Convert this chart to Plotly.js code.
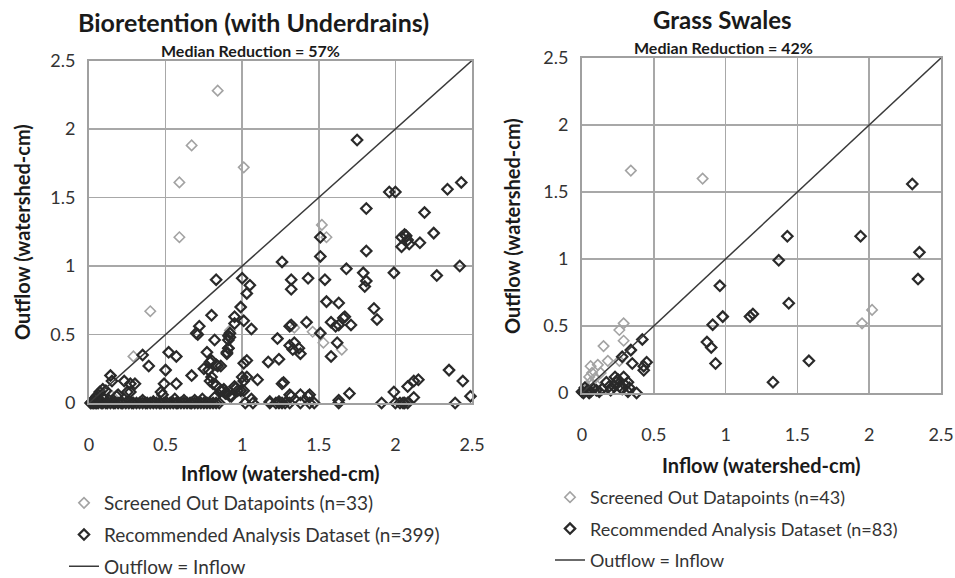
<!DOCTYPE html>
<html>
<head>
<meta charset="utf-8">
<script src="https://cdn.plot.ly/plotly-3.0.1.min.js"></script>
<style>html,body{margin:0;padding:0;background:#fff;overflow:hidden;}#chart{width:955px;height:600px;}</style>
</head>
<body>
<div id="chart"></div>
<script>
// ---- Bioretention (with Underdrains) ----
const bioScreenedX = [0.84,0.67,0.59,1.01,0.59,0.40,0.29,1.52,1.55,1.34,1.46,1.53,1.65,0.92,0.03,0.08,0.15];
const bioScreenedY = [2.28,1.88,1.61,1.72,1.21,0.67,0.34,1.30,1.21,0.55,0.52,0.44,0.39,0.53,0.02,0.01,0.05];

const bioRecX = [
  1.75,1.81,1.96,2.00,2.34,2.43,2.19,2.25,2.06,2.04,2.07,2.08,2.09,2.04,2.16,1.81,1.68,1.79,1.81,1.80,
  1.99,2.27,2.42,1.63,1.86,1.88,1.67,1.63,1.61,1.71,1.62,2.35,2.44,2.15,2.12,2.08,2.12,1.99,1.70,1.63,
  1.91,2.00,2.05,2.08,2.39,2.49,
  1.51,1.51,1.26,1.00,1.05,1.03,1.32,1.32,1.43,1.54,0.99,0.95,0.95,1.01,1.06,1.55,1.58,1.66,1.42,1.31,
  1.32,1.51,1.23,1.31,1.34,1.33,1.37,1.38,1.58,0.92,0.92,0.91,0.90,0.86,1.01,1.03,1.17,1.24,1.00,1.03,
  1.01,1.10,1.26,1.27,
  1.02,1.07,1.18,1.22,1.24,1.26,1.28,1.31,1.38,1.44,1.47,1.63,2.03,2.06,
  0.86,0.89,0.93,0.96,0.99,1.06,1.31,1.32,1.38,1.43,1.44,1.18,1.24,
  0.83,0.80,0.82,0.79,0.83,0.95,1.01,0.83,0.88,0.90,0.79,0.72,0.70,0.71,0.35,0.52,0.57,0.39,0.50,0.77,
  0.80,0.75,0.78,0.67,0.80,0.81,0.14,0.15,0.23,0.27,0.30,0.25,0.27,0.49,0.57,0.07,0.09,0.19,0.18,0.47,
  0.48,0.56,0.69,0.91,0.91,0.90,0.91,0.84,0.87,0.92,0.97,
  0.01,0.02,0.03,0.04,0.05,0.06,0.08,0.09,0.11,0.12,0.14,0.16,0.17,0.19,0.21,0.22,0.24,0.26,0.28,0.29,
  0.31,0.33,0.35,0.37,0.38,0.40,0.42,0.44,0.46,0.47,0.49,0.51,0.53,0.55,0.57,0.58,0.60,0.62,0.64,0.66,
  0.67,0.69,0.71,0.73,0.75,0.77,0.79,0.81,0.83,0.85,
  0.03,0.05,0.02,0.10,0.13,0.35,0.42,0.62,0.74,0.82,0.05,0.06,0.11,0.04
];
const bioRecY = [
  1.92,1.42,1.54,1.54,1.56,1.61,1.39,1.24,1.23,1.21,1.22,1.19,1.16,1.14,1.17,1.11,0.98,0.95,0.89,0.85,
  0.95,0.93,1.00,0.73,0.69,0.61,0.63,0.57,0.56,0.57,0.44,0.24,0.16,0.17,0.16,0.12,0.04,0.08,0.07,0.02,
  0.00,0.00,0.00,0.00,0.00,0.05,
  1.21,1.07,1.03,0.91,0.86,0.80,0.90,0.83,0.91,0.90,0.70,0.63,0.58,0.60,0.54,0.74,0.59,0.62,0.59,0.56,
  0.57,0.51,0.47,0.42,0.44,0.39,0.40,0.36,0.34,0.51,0.48,0.40,0.36,0.27,0.29,0.31,0.30,0.32,0.19,0.19,
  0.16,0.17,0.14,0.15,
  0.00,0.00,0.00,0.00,0.00,0.00,0.00,0.00,0.00,0.00,0.00,0.00,0.00,0.00,
  0.09,0.07,0.05,0.11,0.09,0.03,0.06,0.05,0.06,0.05,0.06,0.01,0.01,
  0.90,0.64,0.46,0.30,0.28,0.12,0.09,0.13,0.10,0.07,0.16,0.56,0.51,0.50,0.35,0.37,0.34,0.27,0.24,0.37,
  0.31,0.25,0.24,0.20,0.19,0.14,0.20,0.16,0.16,0.14,0.14,0.08,0.08,0.14,0.14,0.08,0.10,0.06,0.05,0.08,
  0.06,0.03,0.02,0.49,0.46,0.37,0.40,0.27,0.09,0.05,0.09,
  0.00,0.00,0.00,0.00,0.00,0.00,0.00,0.00,0.00,0.00,0.00,0.00,0.00,0.00,0.00,0.00,0.00,0.00,0.00,0.00,
  0.00,0.00,0.00,0.00,0.00,0.00,0.00,0.00,0.00,0.00,0.00,0.00,0.00,0.00,0.00,0.00,0.00,0.00,0.00,0.00,
  0.00,0.00,0.00,0.00,0.00,0.00,0.00,0.00,0.00,0.00,
  0.02,0.04,0.01,0.03,0.02,0.02,0.01,0.02,0.03,0.04,0.05,0.06,0.09,0.03
];

// ---- Grass Swales ----
const swaleScreenedX = [0.34,0.84,2.02,1.95,0.29,0.26,0.29,0.15,0.18,0.06,0.11,0.07,0.13,0.05,0.09,0.06,0.26,0.03,0.10,0.02];
const swaleScreenedY = [1.66,1.60,0.62,0.52,0.52,0.47,0.39,0.35,0.24,0.20,0.21,0.15,0.15,0.12,0.11,0.08,0.24,0.05,0.06,0.02];

const swaleRecX = [2.30,1.43,1.94,2.35,2.34,1.37,0.96,1.44,1.17,1.19,0.98,0.91,0.87,0.90,0.93,1.58,1.33,
  0.42,0.34,0.28,0.35,0.45,0.43,0.43,0.23,0.25,0.29,0.24,0.26,0.32,0.33,0.17,0.14,0.08,0.02,0.00,0.06,
  0.32,0.38,0.19,0.22,0.04,0.10,0.01,0.12,0.28,0.20,0.05,0.30];
const swaleRecY = [1.56,1.17,1.17,1.05,0.85,0.99,0.80,0.67,0.57,0.59,0.57,0.51,0.38,0.34,0.22,0.24,0.08,
  0.40,0.32,0.27,0.22,0.23,0.20,0.17,0.12,0.10,0.12,0.08,0.05,0.08,0.04,0.08,0.03,0.03,0.04,0.01,0.01,
  0.01,0.00,0.05,0.05,0.02,0.02,0.00,0.01,0.03,0.02,0.00,0.06];

const oneToOne = [0, 2.5];
const tickVals = [0, 0.5, 1, 1.5, 2, 2.5];
const tickText = ['0', '0.5', '1', '1.5', '2', '2.5'];

const FONT = 'Lato, "Noto Sans", sans-serif';
const scrMarker = {symbol: 'diamond-open', size: 8, color: '#a3a3a3', line: {width: 1.6, color: '#a3a3a3'}};
const recMarker = {symbol: 'diamond-open', size: 8, color: '#2a2a2a', line: {width: 2.2, color: '#2a2a2a'}};
const lineStyle = {color: '#3a3a3a', width: 1.5};

const traces = [
  {x: bioScreenedX, y: bioScreenedY, type: 'scatter', mode: 'markers', marker: scrMarker,
   name: 'Screened Out Datapoints (n=33)', xaxis: 'x', yaxis: 'y', legend: 'legend', legendgroup: 'a1', cliponaxis: false},
  {x: bioRecX, y: bioRecY, type: 'scatter', mode: 'markers', marker: recMarker,
   name: 'Recommended Analysis Dataset (n=399)', xaxis: 'x', yaxis: 'y', legend: 'legend', legendgroup: 'a2', cliponaxis: false},
  {x: oneToOne, y: oneToOne, type: 'scatter', mode: 'lines', line: lineStyle,
   name: 'Outflow = Inflow', xaxis: 'x', yaxis: 'y', legend: 'legend', legendgroup: 'a3'},
  {x: swaleScreenedX, y: swaleScreenedY, type: 'scatter', mode: 'markers', marker: scrMarker,
   name: 'Screened Out Datapoints (n=43)', xaxis: 'x2', yaxis: 'y2', legend: 'legend2', legendgroup: 'b1', cliponaxis: false},
  {x: swaleRecX, y: swaleRecY, type: 'scatter', mode: 'markers', marker: recMarker,
   name: 'Recommended Analysis Dataset (n=83)', xaxis: 'x2', yaxis: 'y2', legend: 'legend2', legendgroup: 'b2', cliponaxis: false},
  {x: oneToOne, y: oneToOne, type: 'scatter', mode: 'lines', line: lineStyle,
   name: 'Outflow = Inflow', xaxis: 'x2', yaxis: 'y2', legend: 'legend2', legendgroup: 'b3'}
];

function axis(domain, isX) {
  return {
    domain: domain, range: [0, 2.5], tickvals: tickVals, ticktext: tickText,
    showgrid: true, gridcolor: '#a8a8a8', gridwidth: 1.5, zeroline: false,
    showline: true, linecolor: '#a0a0a0', linewidth: 2, mirror: true,
    ticks: '', ticklabelstandoff: isX ? 24 : 8,
    tickfont: {family: FONT, size: 18, color: '#333'}, fixedrange: true
  };
}

function ann(text, x, y, size, angle) {
  return {text: text, x: x / W, y: 1 - y / H, xref: 'paper', yref: 'paper',
          xanchor: 'center', yanchor: 'middle', textangle: angle || 0,
          showarrow: false, font: {family: FONT, size: size, color: '#1a1a1a'}};
}

// The figure is drawn a little taller than the 578px view so the legends'
// inner padding can run past the bottom edge; every position is in px from top.
const W = 955, H = 600;
const layout = {
  width: W, height: H, margin: {l: 0, r: 0, t: 0, b: 0},
  paper_bgcolor: '#fff', plot_bgcolor: '#fff',
  font: {family: FONT, color: '#222'},
  xaxis: Object.assign(axis([89/W, 472/W], true), {anchor: 'y'}),
  yaxis: Object.assign(axis([1-403/H, 1-60.5/H], false), {anchor: 'x'}),
  xaxis2: Object.assign(axis([582/W, 941/W], true), {anchor: 'y2'}),
  yaxis2: Object.assign(axis([1-393/H, 1-58/H], false), {anchor: 'x2'}),
  showlegend: true,
  legend: {x: 64/W, xanchor: 'left', y: 1-586/H, yanchor: 'bottom', bgcolor: 'rgba(0,0,0,0)',
           font: {family: FONT, size: 19, color: '#333'}, tracegroupgap: 4, traceorder: 'grouped'},
  legend2: {x: 550/W, xanchor: 'left', y: 1-579/H, yanchor: 'bottom', bgcolor: 'rgba(0,0,0,0)',
           font: {family: FONT, size: 18, color: '#333'}, tracegroupgap: 5, traceorder: 'grouped'},
  annotations: [
    ann('<b>Bioretention (with Underdrains)</b>', 253, 22, 25),
    ann('<b>Median Reduction = 57%</b>', 250, 50, 16),
    ann('<b>Grass Swales</b>', 722, 20, 24),
    ann('<b>Median Reduction = 42%</b>', 723, 47, 16),
    ann('<b>Inflow (watershed-cm)</b>', 280, 473, 20),
    ann('<b>Inflow (watershed-cm)</b>', 761, 465, 20),
    ann('<b>Outflow (watershed-cm)</b>', 22, 232, 20, -90),
    ann('<b>Outflow (watershed-cm)</b>', 512, 226, 20, -90)
  ]
};

Plotly.newPlot('chart', traces, layout, {staticPlot: true, displayModeBar: false});
</script>
</body>
</html>
